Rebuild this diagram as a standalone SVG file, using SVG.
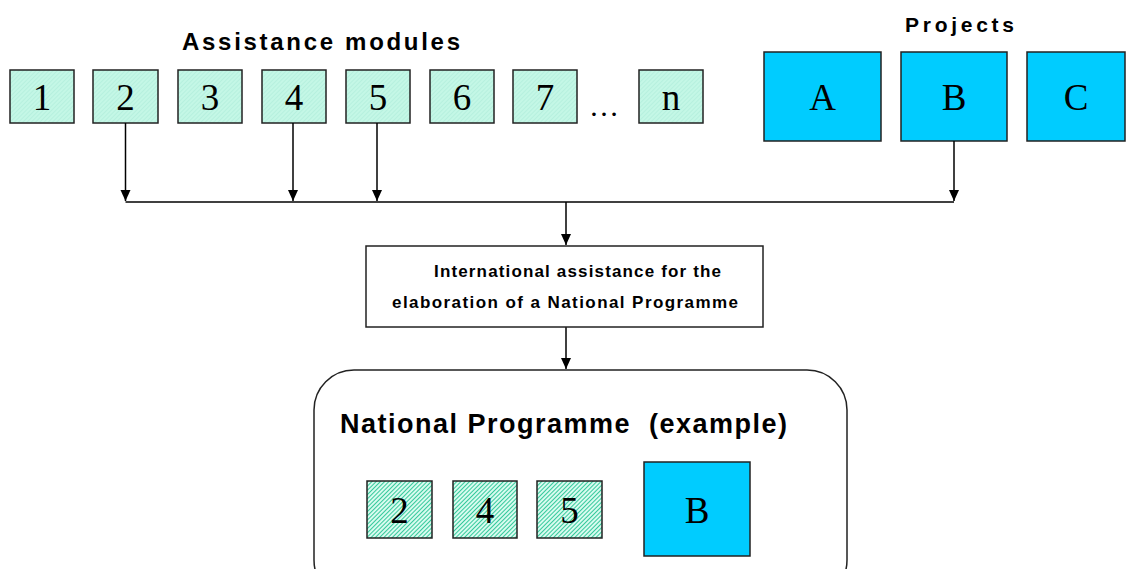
<svg xmlns="http://www.w3.org/2000/svg" width="1126" height="569" viewBox="0 0 1126 569">
<style>
.mod{fill:url(#hatchLight);stroke:#222;stroke-width:1.5}
.mod2{fill:url(#hatchDark);stroke:#222;stroke-width:1.5}
.proj{fill:#00ccff;stroke:#222;stroke-width:1.5}
.num{font-family:"Liberation Serif","Times New Roman",serif;font-size:37px;fill:#000;text-anchor:middle}
.title{font-family:"Liberation Sans",Arial,sans-serif;font-weight:bold;fill:#000}
.conn{stroke:#000;stroke-width:1.5;fill:none}
</style>
<defs>
<pattern id="hatchLight" width="3" height="3" patternUnits="userSpaceOnUse" patternTransform="rotate(45)">
<rect width="3" height="3" fill="#c4f7e6"/>
<line x1="0" y1="0" x2="0" y2="3" stroke="#a9e9d6" stroke-width="1"/>
</pattern>
<pattern id="hatchDark" width="3" height="3" patternUnits="userSpaceOnUse" patternTransform="rotate(45)">
<rect width="3" height="3" fill="#d8fbef"/>
<line x1="0" y1="0" x2="0" y2="3" stroke="#22c492" stroke-width="1.8"/>
</pattern>
<marker id="arr" markerWidth="12" markerHeight="12" refX="11" refY="5" orient="auto" markerUnits="userSpaceOnUse">
<path d="M0,0 L11,5 L0,10 Z" fill="#000"/>
</marker>
</defs>
<rect width="1126" height="569" fill="#fff"/>

<text class="title" x="182" y="50" font-size="24" textLength="278" lengthAdjust="spacing">Assistance modules</text>
<text class="title" x="905" y="32" font-size="21" textLength="109" lengthAdjust="spacing">Projects</text>

<g id="m1"><rect class="mod" x="10" y="70" width="64" height="53"/><text class="num" x="42" y="110">1</text></g>
<g id="m2"><rect class="mod" x="93" y="70" width="65" height="53"/><text class="num" x="125.5" y="110">2</text></g>
<g id="m3"><rect class="mod" x="178" y="70" width="64" height="53"/><text class="num" x="210" y="110">3</text></g>
<g id="m4"><rect class="mod" x="262" y="70" width="64" height="53"/><text class="num" x="294" y="110">4</text></g>
<g id="m5"><rect class="mod" x="346" y="70" width="64" height="53"/><text class="num" x="378" y="110">5</text></g>
<g id="m6"><rect class="mod" x="430" y="70" width="64" height="53"/><text class="num" x="462" y="110">6</text></g>
<g id="m7"><rect class="mod" x="513" y="70" width="64" height="53"/><text class="num" x="545" y="110">7</text></g>
<text x="604" y="116" font-family="Liberation Serif, serif" font-size="30" text-anchor="middle">…</text>
<g id="mn"><rect class="mod" x="639" y="70" width="64" height="53"/><text class="num" x="671" y="110">n</text></g>

<g id="pA"><rect class="proj" x="764" y="52" width="117" height="89"/><text class="num" x="822.5" y="110">A</text></g>
<g id="pB"><rect class="proj" x="901" y="52" width="106" height="89"/><text class="num" x="954" y="110">B</text></g>
<g id="pC"><rect class="proj" x="1027" y="52" width="98" height="89"/><text class="num" x="1076" y="110">C</text></g>

<g id="connectors">
<line class="conn" x1="125.5" y1="123" x2="125.5" y2="201" marker-end="url(#arr)"/>
<line class="conn" x1="293" y1="123" x2="293" y2="201" marker-end="url(#arr)"/>
<line class="conn" x1="377" y1="123" x2="377" y2="201" marker-end="url(#arr)"/>
<line class="conn" x1="954" y1="141" x2="954" y2="201" marker-end="url(#arr)"/>
<line class="conn" x1="125.5" y1="202" x2="954" y2="202"/>
<line class="conn" x1="566" y1="202" x2="566" y2="245" marker-end="url(#arr)"/>
<line class="conn" x1="566" y1="327" x2="566" y2="369" marker-end="url(#arr)"/>
</g>

<g id="intl">
<rect x="366" y="246" width="397" height="81" fill="#fff" stroke="#222" stroke-width="1.5"/>
<text class="title" x="434" y="277" font-size="17" textLength="287" lengthAdjust="spacing">International assistance for the</text>
<text class="title" x="392" y="308" font-size="17" textLength="346" lengthAdjust="spacing">elaboration of a National Programme</text>
</g>

<g id="national">
<rect x="314" y="370" width="533" height="230" rx="40" ry="40" fill="#fff" stroke="#222" stroke-width="1.5"/>
<text class="title" x="340" y="433" font-size="27" textLength="447" lengthAdjust="spacing" xml:space="preserve">National Programme  (example)</text>
<g id="n2"><rect class="mod2" x="367" y="481" width="65" height="57"/><text class="num" x="399.5" y="523">2</text></g>
<g id="n4"><rect class="mod2" x="453" y="481" width="64" height="57"/><text class="num" x="485" y="523">4</text></g>
<g id="n5"><rect class="mod2" x="537" y="481" width="65" height="57"/><text class="num" x="569.5" y="523">5</text></g>
<g id="nB"><rect class="proj" x="644" y="462" width="106" height="94"/><text class="num" x="697" y="523">B</text></g>
</g>
</svg>
